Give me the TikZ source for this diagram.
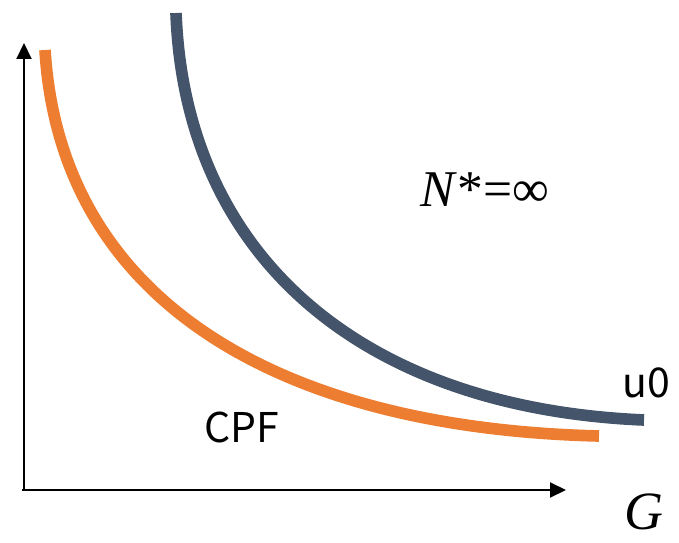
\documentclass[tikz,border=0pt]{standalone}
\usepackage{fontspec}
\setmainfont{Liberation Serif}
\newfontfamily\gothic{Noto Sans CJK JP}
\usetikzlibrary{arrows.meta}

\definecolor{cpforange}{HTML}{ED7D31}
\definecolor{uslate}{HTML}{44546A}

\begin{document}
\begin{tikzpicture}[
    x=0.03cm, y=-0.03cm,
    axis/.style={-{Triangle[length=0.48cm, width=0.45cm]}, line width=0.06cm},
    curve/.style={line width=0.35cm},
    tag/.style={font=\gothic\fontsize{35}{38}\selectfont, inner sep=0pt},
    mathlabel/.style={font=\fontsize{44}{48}\selectfont, inner sep=0pt}
]
    \useasboundingbox (0,0) rectangle (679,543);
    \coordinate (origin) at (24,490);
    \coordinate (ytip) at (24,43);
    \coordinate (xtip) at (566,490);

    \draw[axis] ([yshift=-0.03cm]origin) -- (ytip);
    \draw[axis] ([xshift=-0.06cm]origin) -- (xtip);

    % curves
    \draw[curve, cpforange] (45,50) .. controls (60,295) and (270,428) .. (599,436);
    \draw[curve, uslate] (176,13) .. controls (185,255) and (360,408) .. (644,420);

    \node[mathlabel] (nstar) at (485,190) {\textit{N}*=∞};
    \node[tag] (u0) at (646,383) {u0};
    \node[tag] (cpf) at (242,427) {CPF};
    \node[font=\itshape\fontsize{46}{50}\selectfont, inner sep=0pt] (glabel) at (644,512) {G};
\end{tikzpicture}
\end{document}
